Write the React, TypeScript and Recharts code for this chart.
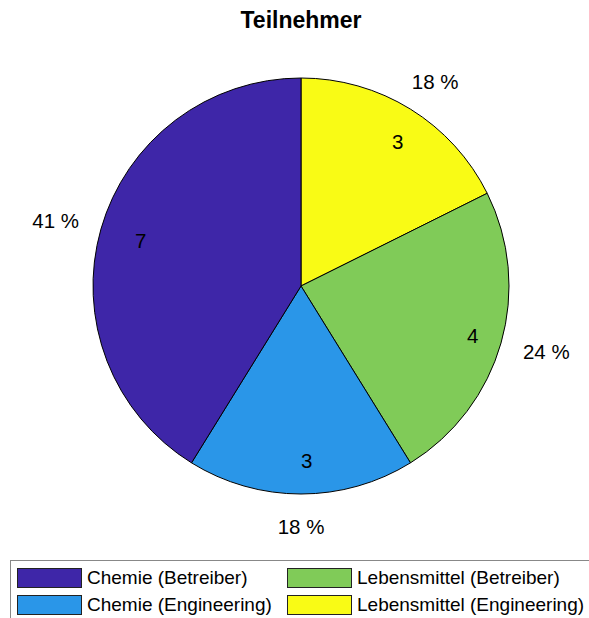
import { PieChart, Pie, Cell, Legend } from "recharts";

// slices clockwise from 12 o'clock
const categories = [
  "Lebensmittel (Engineering)",
  "Lebensmittel (Betreiber)",
  "Chemie (Engineering)",
  "Chemie (Betreiber)",
];
const counts = [3, 4, 3, 7];
const colors = ["#F9FB15", "#80CB58", "#2A96E8", "#3E26A8"];

// legend order as in the reference (two columns)
const legendOrder = [
  "Chemie (Betreiber)",
  "Lebensmittel (Betreiber)",
  "Chemie (Engineering)",
  "Lebensmittel (Engineering)",
];

const data = categories.map((name, i) => ({ name, value: counts[i] }));
const total = counts.reduce((a, b) => a + b, 0);

const FONT = "'Liberation Sans', Arial, Helvetica, sans-serif";
const RAD = Math.PI / 180;

const renderLabel = (props: any) => {
  const { cx, cy, midAngle, outerRadius, value } = props;
  const cos = Math.cos(-midAngle * RAD);
  const sin = Math.sin(-midAngle * RAD);
  const inR = outerRadius * 0.83;
  const pct = Math.round((value / total) * 100);
  return (
    <g>
      {/* count inside the slice, left-aligned like the original */}
      <text
        x={cx + inR * cos}
        y={cy + inR * sin + 2}
        textAnchor="start"
        dominantBaseline="central"
        fill="#000"
        fontSize={20.5}
        fontFamily={FONT}
      >
        {value}
      </text>
      <text
        x={cx + outerRadius * 1.226 * cos}
        y={cy + outerRadius * 1.154 * sin}
        textAnchor="middle"
        dominantBaseline="central"
        fill="#000"
        fontSize={20.5}
        fontFamily={FONT}
      >
        {pct} %
      </text>
    </g>
  );
};

const LegendBox = () => (
  <div
    style={{
      position: "absolute",
      left: 10,
      top: 560,
      width: 600,
      height: 62,
      border: "1px solid #888",
      background: "#fff",
      boxSizing: "border-box",
      fontFamily: FONT,
      fontSize: 19,
      color: "#000",
    }}
  >
    {legendOrder.map((name, i) => {
      const col = i % 2;
      const row = Math.floor(i / 2);
      const color = colors[categories.indexOf(name)];
      return (
        <div
          key={name}
          style={{
            position: "absolute",
            left: col === 0 ? 6 : 276,
            top: 7 + row * 27,
            display: "flex",
            alignItems: "center",
            whiteSpace: "nowrap",
          }}
        >
          <span
            style={{
              display: "inline-block",
              width: 65,
              height: 20,
              background: color,
              border: "1px solid #222",
              boxSizing: "border-box",
              marginRight: 5,
            }}
          />
          <span style={{ lineHeight: "20px" }}>{name}</span>
        </div>
      );
    })}
  </div>
);

export default function App() {
  return (
    <div
      style={{
        position: "absolute",
        left: 0,
        top: 0,
        width: 589,
        height: 618,
        overflow: "hidden",
        background: "#fff",
      }}
    >
      <div
        style={{
          position: "absolute",
          left: 0,
          top: 7,
          width: 602,
          textAlign: "center",
          fontFamily: FONT,
          fontWeight: "bold",
          fontSize: 23,
          color: "#000",
        }}
      >
        Teilnehmer
      </div>
      <PieChart width={589} height={618}>
        <Pie
          data={data}
          dataKey="value"
          nameKey="name"
          cx={296}
          cy={281}
          outerRadius={208}
          startAngle={90}
          endAngle={-270}
          stroke="#000"
          strokeWidth={1}
          label={renderLabel}
          labelLine={false}
          isAnimationActive={false}
        >
          {data.map((d, i) => (
            <Cell key={d.name} fill={colors[i]} />
          ))}
        </Pie>
        <Legend content={() => null} />
      </PieChart>
      <LegendBox />
    </div>
  );
}
